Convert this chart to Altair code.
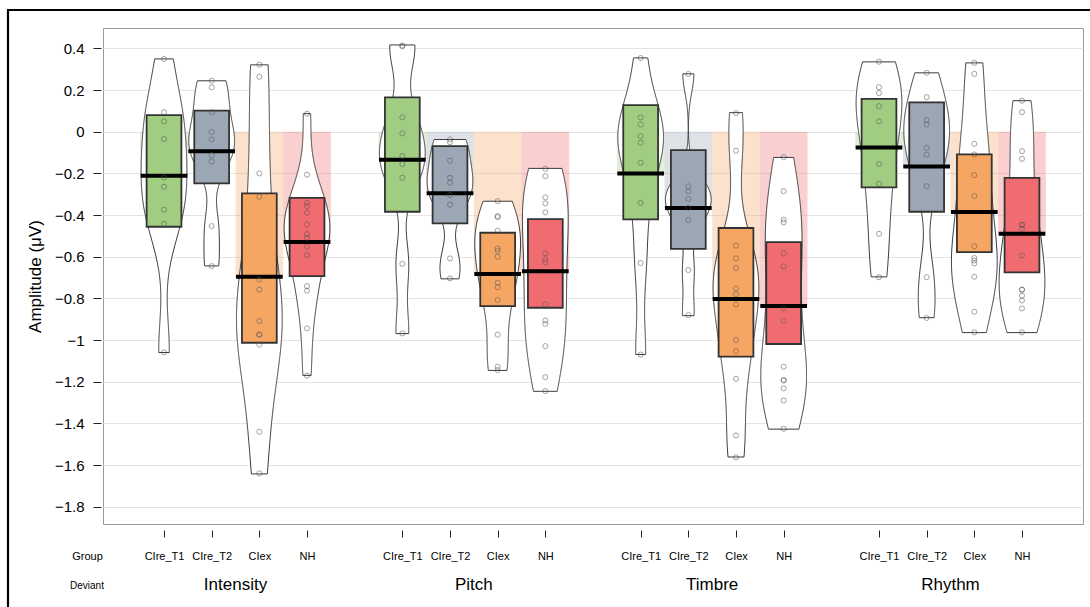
import altair as alt
import numpy as np
import pandas as pd

deviants = ["Intensity", "Pitch", "Timbre", "Rhythm"]
groups = ["CIre_T1", "CIre_T2", "CIex", "NH"]
group_colors = ["#A0CD82", "#9BA7B4", "#F6A663", "#F06C70"]

# individual amplitudes (µV) per deviant / group
intensity_cire_t1 = [0.349, 0.094, 0.05, -0.035, -0.219, -0.264, -0.374, -0.442, -1.059]
intensity_cire_t2 = [0.245, 0.213, 0.094, -0.002, -0.037, -0.112, -0.142, -0.453, -0.645]
intensity_ciex = [0.322, 0.264, -0.2, -0.312, -0.709, -0.758, -0.909, -0.973, -0.975, -1.022, -1.44, -1.64]
intensity_nh = [0.086, -0.206, -0.341, -0.357, -0.389, -0.445, -0.491, -0.509, -0.552, -0.592, -0.741, -0.763, -0.944, -1.171]

pitch_cire_t1 = [0.414, 0.41, 0.069, -0.008, -0.117, -0.155, -0.221, -0.634, -0.968]
pitch_cire_t2 = [-0.037, -0.05, -0.139, -0.221, -0.245, -0.304, -0.35, -0.608, -0.704]
pitch_ciex = [-0.333, -0.405, -0.41, -0.475, -0.56, -0.571, -0.6, -0.725, -0.746, -0.808, -0.974, -1.128, -1.144]
pitch_nh = [-0.178, -0.213, -0.315, -0.344, -0.387, -0.584, -0.613, -0.627, -0.829, -0.906, -0.922, -1.029, -1.178, -1.245]

timbre_cire_t1 = [0.354, 0.069, 0.035, -0.021, -0.053, -0.149, -0.342, -0.63, -1.07]
timbre_cire_t2 = [0.277, -0.262, -0.286, -0.323, -0.365, -0.423, -0.664, -0.88]
timbre_ciex = [0.09, -0.091, -0.547, -0.608, -0.653, -0.752, -0.781, -0.829, -1.0, -1.053, -1.186, -1.458, -1.563]
timbre_nh = [-0.122, -0.285, -0.422, -0.435, -0.584, -0.646, -0.848, -0.907, -1.128, -1.192, -1.194, -1.232, -1.29, -1.426]

rhythm_cire_t1 = [0.336, 0.214, 0.186, 0.123, 0.05, -0.155, -0.25, -0.49, -0.698]
rhythm_cire_t2 = [0.283, 0.166, 0.056, 0.035, -0.077, -0.11, -0.261, -0.698, -0.894]
rhythm_ciex = [0.331, 0.278, -0.058, -0.109, -0.208, -0.309, -0.55, -0.606, -0.618, -0.632, -0.696, -0.864, -0.963]
rhythm_nh = [0.149, 0.094, -0.093, -0.13, -0.446, -0.448, -0.466, -0.594, -0.757, -0.759, -0.787, -0.81, -0.848, -0.963]

# inference (HDI) box bounds, in deviant-major / group-minor order
box_low = [-0.456, -0.248, -1.013, -0.693,
           -0.384, -0.44, -0.837, -0.845,
           -0.421, -0.562, -1.08, -1.019,
           -0.267, -0.384, -0.578, -0.675]
box_high = [0.08, 0.101, -0.296, -0.317,
            0.165, -0.069, -0.485, -0.419,
            0.128, -0.088, -0.462, -0.53,
            0.158, 0.141, -0.109, -0.221]

y_ticks = [0.4, 0.2, 0.0, -0.2, -0.4, -0.6, -0.8, -1.0, -1.2, -1.4, -1.6, -1.8]

cells = [
    [intensity_cire_t1, intensity_cire_t2, intensity_ciex, intensity_nh],
    [pitch_cire_t1, pitch_cire_t2, pitch_ciex, pitch_nh],
    [timbre_cire_t1, timbre_cire_t2, timbre_ciex, timbre_nh],
    [rhythm_cire_t1, rhythm_cire_t2, rhythm_ciex, rhythm_nh],
]


def kde_bandwidth(vals):
    # R's bw.nrd0 (used by the original pirate plot violins)
    a = np.asarray(vals, dtype=float)
    sd = a.std(ddof=1)
    q1, q3 = np.quantile(a, [0.25, 0.75])
    lo = min(sd, (q3 - q1) / 1.34) or sd
    return 0.9 * lo * len(a) ** -0.2


rows, box_rows, tick_pos, bws = [], [], [], []
k = 0
for di, dev in enumerate(deviants):
    for gi, grp in enumerate(groups):
        pos = di * 5 + gi + 1
        tick_pos.append(pos)
        bws.append(kde_bandwidth(cells[di][gi]))
        for v in cells[di][gi]:
            rows.append({"pos": pos, "group": grp, "deviant": dev, "value": v})
        box_rows.append({"pos": pos, "group": grp, "lo": box_low[k], "hi": box_high[k]})
        k += 1
pts = pd.DataFrame(rows)
box = pd.DataFrame(box_rows)
dev_df = pd.DataFrame({"deviant": deviants, "center": [di * 5 + 2.5 for di in range(4)]})
one = pd.DataFrame({"a": [0]})

xs = alt.Scale(domain=[-0.28, 20.28], nice=False, zero=False)
ys = alt.Scale(domain=[-1.883, 0.498], nice=False, zero=False)
cs = alt.Scale(domain=groups, range=group_colors)

FONT = "Liberation Sans"
label_expr = "['', 'CIre_T1', 'CIre_T2', 'CIex', 'NH'][datum.value % 5]"

X_AXIS = alt.Axis(
    values=tick_pos, labelExpr=label_expr, grid=False, domain=False,
    offset=6, tickSize=7, tickColor="#222222", labelPadding=13,
    labelFontSize=11, labelColor="black", labelFont=FONT,
    title="Group", titleX=-16, titleY=26, titleAlign="center", titleBaseline="middle",
    titleFontSize=11, titleFontWeight="normal", titleFont=FONT, titleColor="black",
)
Y_AXIS = alt.Axis(
    values=y_ticks, format=".1~f", grid=True, gridColor="#e4e4e4", domain=False,
    offset=2, tickSize=8, tickColor="#222222", labelPadding=9,
    labelFontSize=15, labelColor="black", labelFont=FONT,
    title="Amplitude (μV)", titleFontSize=17, titleFontWeight="normal",
    titleFont=FONT, titleColor="black", titlePadding=10,
)


def X(f):
    return alt.X(f, type="quantitative", scale=xs, axis=X_AXIS)


def Y(f):
    return alt.Y(f, type="quantitative", scale=ys, axis=Y_AXIS)


frame = alt.Chart(one).mark_rect(fillOpacity=0, stroke="black", strokeWidth=2.2).encode(
    x=alt.value(-95), x2=alt.value(1010), y=alt.value(-18), y2=alt.value(620)
)

bars = alt.Chart(pts).transform_aggregate(
    mean="mean(value)", groupby=["pos", "group"]
).transform_calculate(
    x1="datum.pos - 0.5", x2="datum.pos + 0.5", zero="0"
).mark_rect(opacity=0.33).encode(
    x=X("x1"), x2="x2:Q", y=Y("mean"), y2="zero:Q",
    color=alt.Color("group:N", scale=cs, legend=None),
)


def violin(p, bw):
    return alt.Chart(pts).transform_filter(
        f"datum.pos == {p}"
    ).transform_joinaggregate(
        vmin="min(value)", vmax="max(value)"
    ).transform_density(
        "value", as_=["value", "density"], groupby=["pos", "vmin", "vmax"],
        extent=[-1.7, 0.45], steps=450, bandwidth=float(bw),
    ).transform_filter(
        "datum.value >= datum.vmin - 0.003 && datum.value <= datum.vmax + 0.003"
    ).transform_joinaggregate(
        maxd="max(density)"
    ).transform_calculate(
        xl="datum.pos - 0.48 * datum.density / datum.maxd",
        xr="datum.pos + 0.48 * datum.density / datum.maxd",
    ).mark_area(orient="horizontal", fill="white", stroke="#3a3a3a", strokeWidth=1).encode(
        y=Y("value"), x=X("xl"), x2="xr:Q",
    )


violins = [violin(p, bw) for p, bw in zip(tick_pos, bws)]

boxes = alt.Chart(box).transform_calculate(
    x1="datum.pos - 0.365", x2="datum.pos + 0.365"
).mark_rect(stroke="#333333", strokeWidth=1.8).encode(
    x=X("x1"), x2="x2:Q", y=Y("lo"), y2="hi:Q",
    color=alt.Color("group:N", scale=cs, legend=None),
)

means = alt.Chart(pts).transform_aggregate(
    mean="mean(value)", groupby=["pos"]
).transform_calculate(
    x1="datum.pos - 0.49", x2="datum.pos + 0.49"
).mark_rule(color="black", strokeWidth=4).encode(
    x=X("x1"), x2="x2:Q", y=Y("mean"),
)

points = alt.Chart(pts).mark_point(
    shape="circle", filled=False, color="#555555", opacity=0.6, size=26, strokeWidth=0.9
).encode(x=X("pos"), y=Y("value"))

dev_text = alt.Chart(dev_df).mark_text(
    fontSize=17, font=FONT, color="black", baseline="middle", align="center"
).encode(x=X("center"), y=alt.value(557), text="deviant:N")

dev_row = alt.Chart(one).mark_text(
    fontSize=10, font=FONT, color="black", baseline="middle", align="center", text="Deviant"
).encode(x=alt.value(-16), y=alt.value(558))

chart = alt.layer(
    frame, bars, *violins, boxes, means, points, dev_text, dev_row
).properties(
    width=980, height=496,
    padding={"left": 103, "top": 28, "right": 7, "bottom": 83},
    autosize=alt.AutoSizeParams(type="none"),
    background="white",
).configure_view(stroke="#9a9a9a", strokeWidth=1)

chart.save("out.html", embed_options={"renderer": "svg", "actions": False})
